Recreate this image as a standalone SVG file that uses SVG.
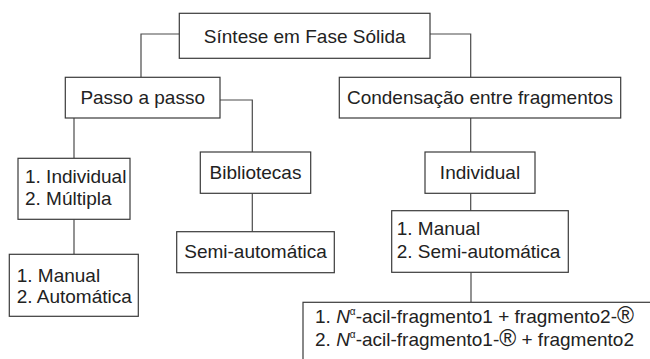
<svg xmlns="http://www.w3.org/2000/svg" width="650" height="359" viewBox="0 0 650 359">
<style>
.box{fill:#fff;stroke:#3a3a3a;stroke-width:1.2}
.conn{fill:none;stroke:#4a4a4a;stroke-width:1.2}
text{font-family:"Liberation Sans",Arial,sans-serif;font-size:19px;fill:#222}
.c{text-anchor:middle}
.r{font-size:23px}
</style>
<rect width="650" height="359" fill="#fff"/>
<g id="connectors">
<path class="conn" d="M179.3,34 H141 V77.3"/>
<path class="conn" d="M430,34 H470.7 V77.3"/>
<path class="conn" d="M220,100 H252.3 V152"/>
<path class="conn" d="M74,118 V158.3"/>
<path class="conn" d="M74,219.3 V254.3"/>
<path class="conn" d="M252.3,193.3 V231.7"/>
<path class="conn" d="M470.7,118 V152"/>
<path class="conn" d="M470.7,193.3 V210.7"/>
<path class="conn" d="M471,272.3 V302.3"/>
</g>
<g id="sintese">
<rect class="box" x="179.3" y="13.3" width="250.7" height="45"/>
<text class="c" x="304.7" y="42.7">Síntese em Fase Sólida</text>
</g>
<g id="passo">
<rect class="box" x="65.3" y="77.3" width="154.7" height="40.7"/>
<text class="c" x="142.7" y="103.5">Passo a passo</text>
</g>
<g id="condensacao">
<rect class="box" x="339.3" y="77.3" width="281.4" height="40.7"/>
<text class="c" x="480" y="103.5">Condensação entre fragmentos</text>
</g>
<g id="individual-multipla">
<rect class="box" x="18" y="158.3" width="112" height="61"/>
<text x="25" y="182.7">1. Individual</text>
<text x="25" y="205">2. Múltipla</text>
</g>
<g id="bibliotecas">
<rect class="box" x="200.3" y="152" width="110.4" height="41.3"/>
<text class="c" x="255.5" y="179.3">Bibliotecas</text>
</g>
<g id="semi-automatica">
<rect class="box" x="176.7" y="231.7" width="157.6" height="41"/>
<text class="c" x="255.5" y="258.3">Semi-automática</text>
</g>
<g id="manual-automatica">
<rect class="box" x="9.3" y="254.3" width="129" height="62"/>
<text x="16.7" y="281.7">1. Manual</text>
<text x="16.7" y="303.3">2. Automática</text>
</g>
<g id="individual">
<rect class="box" x="425" y="152" width="110" height="41.3"/>
<text class="c" x="480" y="179.3">Individual</text>
</g>
<g id="manual-semi">
<rect class="box" x="391.7" y="210.7" width="176.6" height="61.6"/>
<text x="396.7" y="235">1. Manual</text>
<text x="396.7" y="258.3">2. Semi-automática</text>
</g>
<g id="fragmentos">
<rect class="box" x="303" y="302.3" width="370" height="80"/>
<text x="315" y="323.3">1. <tspan font-style="italic">N</tspan><tspan font-size="10" dy="-8">α</tspan><tspan dy="8">-acil-fragmento1 + fragmento2-</tspan><tspan class="r">®</tspan></text>
<text x="315" y="346">2. <tspan font-style="italic">N</tspan><tspan font-size="10" dy="-8">α</tspan><tspan dy="8">-acil-fragmento1-</tspan><tspan class="r">®</tspan><tspan> + fragmento2</tspan></text>
</g>
</svg>
